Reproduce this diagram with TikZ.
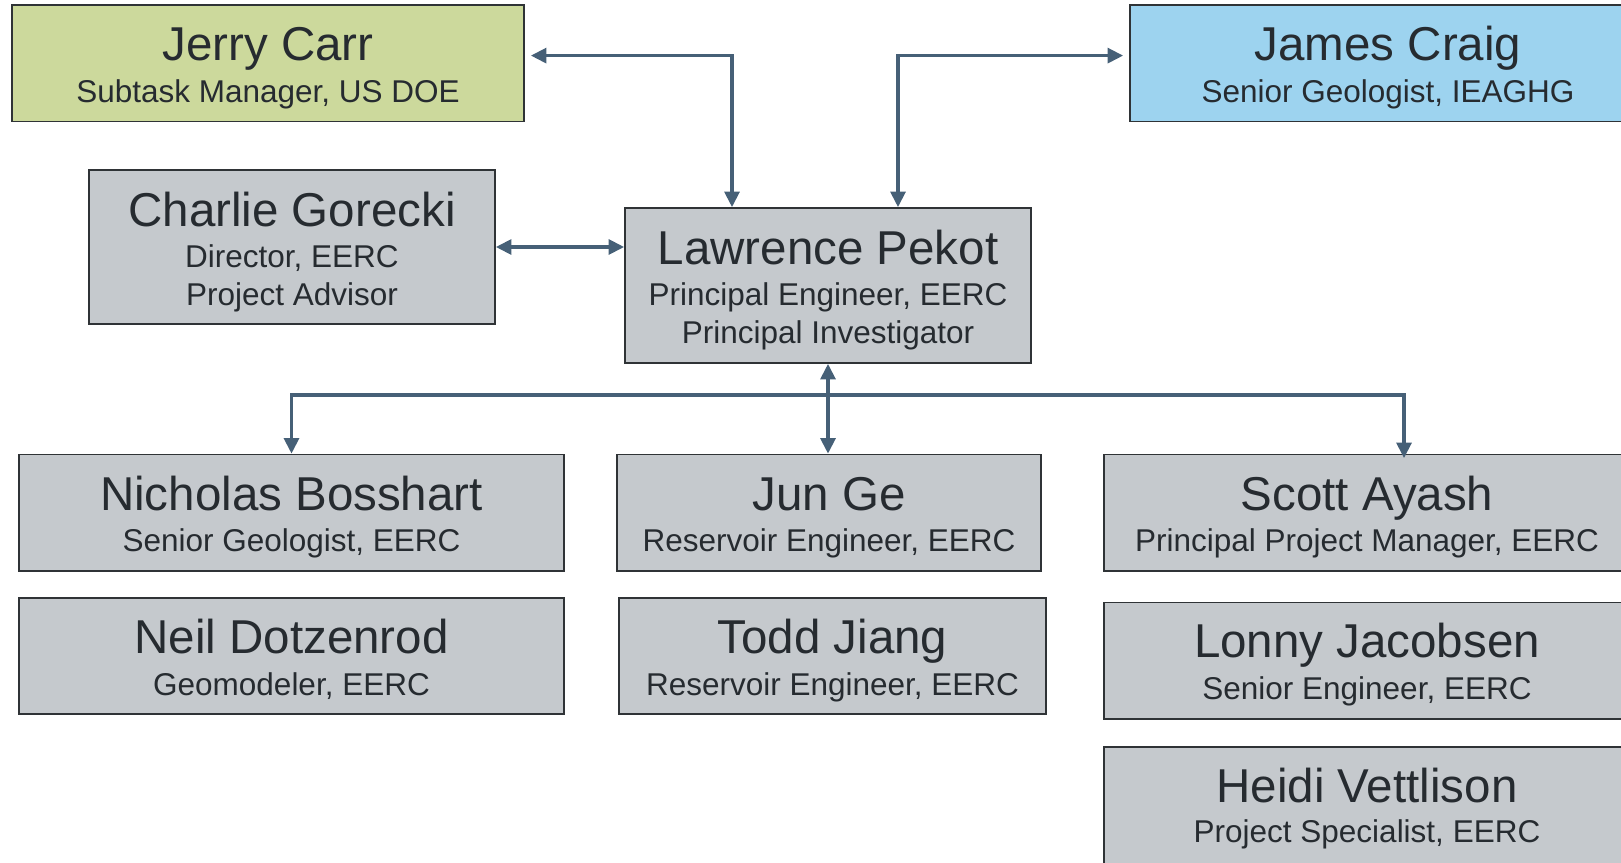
\documentclass[tikz,border=0pt]{standalone}
\usepackage{fontspec}
\setmainfont{Liberation Sans}
\usetikzlibrary{arrows.meta,fit}
\definecolor{boxgray}{RGB}{197,201,205}
\definecolor{boxgreen}{RGB}{204,217,156}
\definecolor{boxblue}{RGB}{157,211,239}
\definecolor{conncol}{RGB}{70,96,119}
\definecolor{txtcol}{RGB}{38,43,48}
\definecolor{edgecol}{RGB}{47,51,54}
\tikzset{
  pbox/.style={draw=edgecol, line width=1.8pt, fill=boxgray, inner sep=0pt},
  greenbox/.style={pbox, fill=boxgreen},
  bluebox/.style={pbox, fill=boxblue},
  nm/.style={font=\fontsize{47.5}{50}\selectfont, text=txtcol, anchor=base, inner sep=0pt},
  sb/.style={font=\fontsize{31.5}{36}\selectfont, text=txtcol, anchor=base, inner sep=0pt},
  conn/.style={draw=conncol, line width=3.1pt},
  tipb/.style={{Triangle[length=15.5pt,width=15pt]}-{Triangle[length=15.5pt,width=15pt]}},
}
\begin{document}
\begin{tikzpicture}[x=1pt,y=-1pt]
\useasboundingbox (0,0) rectangle (1621,862);
\clip (0,0) rectangle (1621,862);
% boxes
\node[greenbox, fit={(12,5) (524,121.5)}] (jc) {};
\node[bluebox, fit={(1130,5) (1646,121.5)}] (jcr) {};
\node[pbox, fit={(89,170) (495,324)}] (cg) {};
\node[pbox, fit={(625,208) (1031,363)}] (lp) {};
\node[pbox, fit={(19,454.5) (564,571)}] (nb) {};
\node[pbox, fit={(19,598) (564,714)}] (nd) {};
\node[pbox, fit={(617,454.5) (1041,571)}] (jg) {};
\node[pbox, fit={(619,598) (1046,714)}] (tj) {};
\node[pbox, fit={(1104,454.5) (1630,571)}] (sa) {};
\node[pbox, fit={(1104,602.5) (1630,718.7)}] (lj) {};
\node[pbox, fit={(1104,747) (1630,880)}] (hv) {};
% texts
\node[nm] (jc1) at ([yshift=-56.7pt]jc.north) {Jerry Carr};
\node[sb] (jc2) at ([yshift=-98.3pt]jc.north) {Subtask Manager, US DOE};
\node[nm] (jcr1) at ([yshift=-56.7pt]jcr.north) {James Craig};
\node[sb] (jcr2) at ([yshift=-98.3pt]jcr.north) {Senior Geologist, IEAGHG};
\node[nm] (cg1) at ([yshift=-57pt]cg.north) {Charlie Gorecki};
\node[sb] (cg2) at ([yshift=-98.5pt]cg.north) {Director, EERC};
\node[sb] (cg3) at ([yshift=-136.5pt]cg.north) {Project Advisor};
\node[nm] (lp1) at ([yshift=-57pt]lp.north) {Lawrence Pekot};
\node[sb] (lp2) at ([yshift=-98.5pt]lp.north) {Principal Engineer, EERC};
\node[sb] (lp3) at ([yshift=-136.7pt]lp.north) {Principal Investigator};
\node[nm] (nb1) at ([yshift=-56.7pt]nb.north) {Nicholas Bosshart};
\node[sb] (nb2) at ([yshift=-98.3pt]nb.north) {Senior Geologist, EERC};
\node[nm] (nd1) at ([yshift=-56.7pt]nd.north) {Neil Dotzenrod};
\node[sb] (nd2) at ([yshift=-98pt]nd.north) {Geomodeler, EERC};
\node[nm] (jg1) at ([yshift=-56.7pt]jg.north) {Jun Ge};
\node[sb] (jg2) at ([yshift=-98.3pt]jg.north) {Reservoir Engineer, EERC};
\node[nm] (tj1) at ([yshift=-56.7pt]tj.north) {Todd Jiang};
\node[sb] (tj2) at ([yshift=-98pt]tj.north) {Reservoir Engineer, EERC};
\node[nm] (sa1) at ([yshift=-56.7pt]sa.north) {Scott Ayash};
\node[sb] (sa2) at ([yshift=-98.3pt]sa.north) {Principal Project Manager, EERC};
\node[nm] (lj1) at ([yshift=-56pt]lj.north) {Lonny Jacobsen};
\node[sb] (lj2) at ([yshift=-97.5pt]lj.north) {Senior Engineer, EERC};
\node[nm] (hv1) at ([yshift=-56.3pt]hv.north) {Heidi Vettlison};
\node[sb] (hv2) at ([yshift=-96.3pt]hv.north) {Project Specialist, EERC};
% connector bends
\coordinate (k1) at (732,55.6);
\coordinate (k2) at (898,55.6);
\coordinate (k4) at (1404,395);
% connectors
\draw[conn,tipb] ([xshift=6pt]jc.east |- k1) -- (k1) -- (k1 |- lp.north);
\draw[conn,tipb] (k2 |- lp.north) -- (k2) -- ([xshift=-6pt]jcr.west |- k2);
\draw[conn,tipb] (cg.east) -- (cg.east -| lp.west);
\draw[conn,tipb] (nb.north) -- (nb.north |- k4) -- (k4) -- ([yshift=-4.5pt]k4 |- sa.north);
\draw[conn,tipb] (lp.south) -- (lp.south |- jg.north);
\end{tikzpicture}
\end{document}
